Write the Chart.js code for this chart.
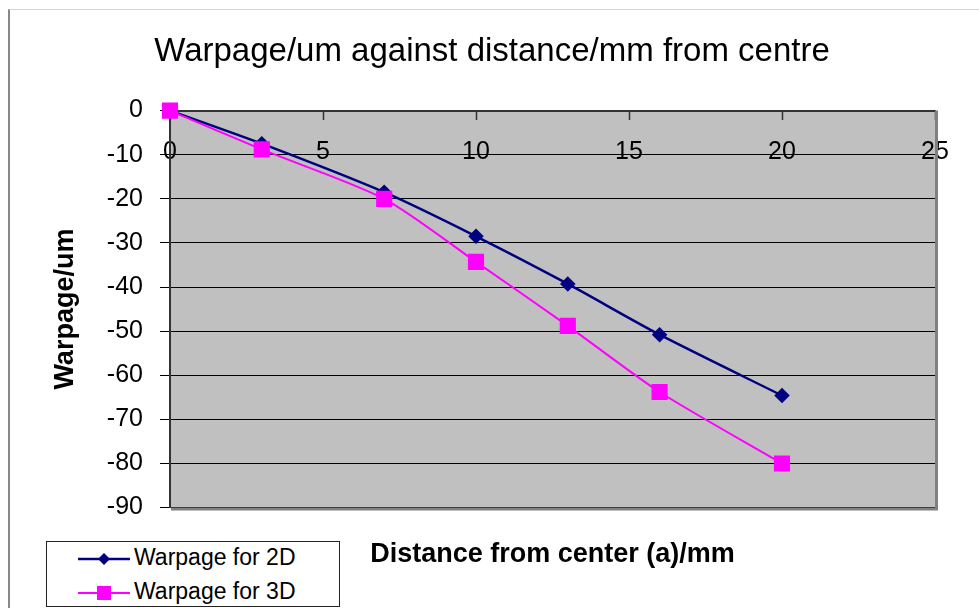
<!DOCTYPE html>
<html>
<head>
<meta charset="utf-8">
<title>Warpage against distance</title>
<script src="https://cdn.jsdelivr.net/npm/chart.js@4"></script>
<style>
  body { margin: 0; background: #fff; font-family: "Liberation Sans", Arial, sans-serif; }
  #wrap { position: relative; width: 979px; height: 608px; overflow: hidden; }
  #chart1 { position: absolute; left: 0; top: 0; }
  #frame {
    position: absolute; left: 8px; top: 9px; right: -4px; bottom: -4px;
    border-left: 2px solid #888; border-top: 1px solid #d4d4d4;
    pointer-events: none;
  }
  #legend {
    position: absolute; left: 46px; top: 541px; width: 292px; height: 64px;
    border: 1px solid #222; background: #fff;
  }
  #legend .item {
    position: absolute; left: 31px; height: 24px; line-height: 24px;
    font-size: 23px; color: #000; white-space: nowrap;
  }
  #legend svg { vertical-align: middle; margin-right: 4px; }
</style>
</head>
<body>
<div id="wrap">
  <canvas id="chart1" width="979" height="608"></canvas>
  <div id="frame"></div>
  <div id="legend"></div>
</div>
<script>
// distance from the centre in mm
const distances = [0, 3, 7, 10, 13, 16, 20]
// warpage in um
const warpage2D = [0, -7.5, -18.5, -28.5, -39.3, -50.8, -64.6]
const warpage3D = [0, -8.8, -20, -34.3, -48.8, -63.8, -80]

const seriesNames = ['Warpage for 2D', 'Warpage for 3D']
const seriesColors = ['#000080', '#ff00ff']

const xTicks = { min: 0, max: 25, step: 5 }
const yTicks = { min: -90, max: 0, step: 10 }

Chart.defaults.font.family = '"Liberation Sans", Arial, sans-serif'
Chart.defaults.color = '#000'

function toPoints(values) {
    return distances.map((d, i) => ({ x: d, y: values[i] }))
}

// grey plot background plus the darker right / bottom edge
const plotFrame = {
    id: 'plotFrame',
    beforeDraw(chart) {
        const { ctx, chartArea: a } = chart
        ctx.save()
        ctx.fillStyle = '#c0c0c0'
        ctx.fillRect(a.left, a.top, a.right - a.left, a.bottom - a.top)
        ctx.restore()
    },
    afterDraw(chart) {
        const { ctx, chartArea: a } = chart
        ctx.save()
        ctx.strokeStyle = '#808080'
        ctx.lineWidth = 3
        ctx.beginPath()
        ctx.moveTo(a.right + 1.5, a.top)
        ctx.lineTo(a.right + 1.5, a.bottom + 1.5)
        ctx.lineTo(a.left + 1, a.bottom + 1.5)
        ctx.stroke()
        ctx.restore()
    }
}

const ctx = document.querySelector('#chart1').getContext('2d')
const chart1 = new Chart(ctx, {
    type: 'line',
    data: {
        datasets: [{
            label: seriesNames[0],
            data: toPoints(warpage2D),
            borderColor: seriesColors[0],
            backgroundColor: seriesColors[0],
            borderWidth: 2.5,
            pointStyle: 'rectRot',
            pointRadius: 6,
            tension: 0.25,
            clip: false,
            order: 2
        }, {
            label: seriesNames[1],
            data: toPoints(warpage3D),
            borderColor: seriesColors[1],
            backgroundColor: seriesColors[1],
            borderWidth: 2,
            pointStyle: 'rect',
            pointRadius: 10,
            tension: 0.25,
            clip: false,
            order: 1
        }]
    },
    options: {
        responsive: false,
        animation: false,
        layout: {
            padding: { left: 49, right: 44, top: 0, bottom: 37 }
        },
        plugins: {
            legend: { display: false },
            tooltip: { enabled: false },
            title: {
                display: true,
                text: 'Warpage/um against distance/mm from centre',
                font: { size: 33, weight: 'normal' },
                color: '#000',
                padding: { top: 32, bottom: 39 }
            }
        },
        scales: {
            x: {
                type: 'linear',
                min: xTicks.min,
                max: xTicks.max,
                position: { y: 0 },
                ticks: { stepSize: xTicks.step, font: { size: 25 }, color: '#000', padding: 19 },
                grid: { drawOnChartArea: false, tickLength: 8, tickColor: '#333', tickWidth: 1.5 },
                border: { color: '#333', width: 2 }
            },
            xTitle: {
                type: 'linear',
                axis: 'x',
                position: 'bottom',
                min: xTicks.min,
                max: xTicks.max,
                ticks: { display: false },
                grid: { display: false, drawTicks: false },
                border: { display: false },
                title: {
                    display: true,
                    text: 'Distance from center (a)/mm',
                    font: { size: 27, weight: 'bold' },
                    color: '#000',
                    padding: { top: 31, bottom: 0 }
                }
            },
            y: {
                min: yTicks.min,
                max: yTicks.max,
                ticks: { stepSize: yTicks.step, font: { size: 25 }, color: '#000', padding: 17 },
                grid: { color: '#000', lineWidth: 1, tickLength: 10, tickColor: '#000' },
                border: { color: '#333', width: 2 },
                title: {
                    display: true,
                    text: 'Warpage/um',
                    font: { size: 27, weight: 'bold' },
                    color: '#000',
                    padding: 0
                },
                afterFit(scale) {
                    scale.width = 121
                }
            }
        }
    },
    plugins: [plotFrame]
})

// legend box in the lower left corner
function renderLegend() {
    const legend = document.querySelector('#legend')
    chart1.data.datasets.forEach((ds, i) => {
        const c = seriesColors[i]
        const marker = ds.pointStyle === 'rect'
            ? `<rect x="19" y="0" width="14" height="14" fill="${c}"/>`
            : `<polygon points="26,1 32,7 26,13 20,7" fill="${c}"/>`
        const item = document.createElement('div')
        item.className = 'item'
        item.style.top = (3 + i * 34) + 'px'
        item.innerHTML = `<svg width="52" height="14"><line x1="0" y1="7" x2="52" y2="7" stroke="${c}" stroke-width="${ds.borderWidth}"/>${marker}</svg>${ds.label}`
        legend.appendChild(item)
    })
}

renderLegend()
</script>
</body>
</html>
